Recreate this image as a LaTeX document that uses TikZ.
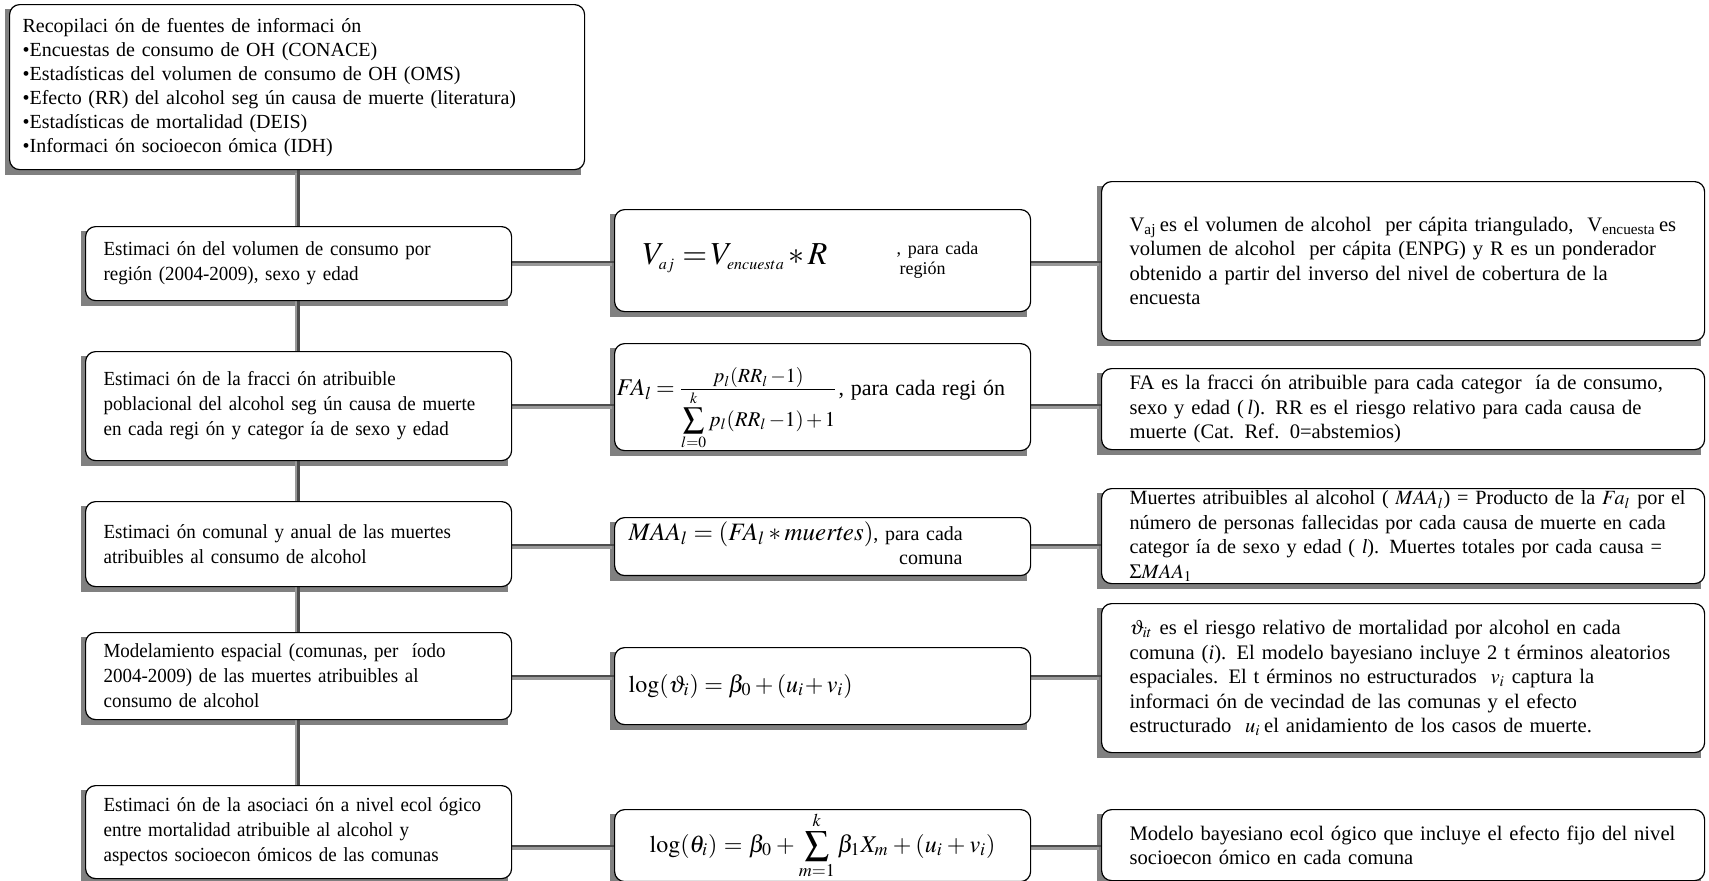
\documentclass[tikz,border=0pt]{standalone}
\usepackage{mathptmx}
\usepackage{fontspec}
\setmainfont{Liberation Serif}
\newfontfamily\stagefont{Liberation Serif}[FakeStretch=0.95]
\usetikzlibrary{backgrounds}
\DeclareMathSizes{16}{16}{8}{6}

\definecolor{boxshade}{gray}{0.5}
\definecolor{linkdark}{gray}{0.3}
\definecolor{linkshade}{gray}{0.6}

\tikzset{
  stagebox/.style={draw=black, line width=0.6pt, rounded corners=5pt, fill=white,
    align=left, anchor=north west, inner ysep=2pt},
  leftbox/.style={stagebox, minimum width=213pt, text width=195pt, inner xsep=9pt,
    font=\stagefont\fontsize{10}{12.5}\selectfont},
  formbox/.style={stagebox, minimum width=208pt, text width=194pt, inner xsep=7pt,
    font=\fontsize{10}{12}\selectfont},
  notebox/.style={stagebox, minimum width=301.5pt, text width=287.5pt, inner xsep=7pt,
    font=\fontsize{10.3}{12.25}\selectfont, execute at begin node={\leftskip=7pt}},
  widenote/.style={notebox, text width=295pt, inner xsep=3.25pt,
    font=\fontsize{10.1}{12.2}\selectfont, execute at begin node={\leftskip=10.75pt}},
  link/.style={draw=linkdark, line width=1.3pt},
  linkshadow/.style={draw=linkshade, line width=2pt, transform canvas={shift={(-1pt,-1.2pt)}}},
}

\begin{document}
\begin{tikzpicture}[x=0.5pt,y=-0.5pt]
\useasboundingbox (0,0) rectangle (1709,880);
% fuentes de informacion
\node[stagebox, minimum width=287.5pt, text width=274.5pt, inner xsep=6.5pt, minimum height=82.5pt,
  font=\fontsize{10}{12}\selectfont] (top) at (9,4)
  {Recopilaci ón de fuentes de informaci ón\\
   •Encuestas de consumo de OH (CONACE)\\
   •Estadísticas del volumen de consumo de OH (OMS)\\
   •Efecto (RR) del alcohol seg ún causa de muerte (literatura)\\
   •Estadísticas de mortalidad (DEIS)\\
   •Informaci ón socioecon ómica (IDH)};

% etapas
\node[leftbox, minimum height=37pt] (l1) at (85,226)
  {Estimaci ón del volumen de consumo por\\región (2004-2009), sexo y edad};
\node[leftbox, minimum height=54.5pt] (l2) at (85,351)
  {Estimaci ón de la fracci ón atribuible\\poblacional del alcohol seg ún causa de muerte\\en cada regi ón y categor ía de sexo y edad};
\node[leftbox, minimum height=42.5pt] (l3) at (85,501)
  {Estimaci ón comunal y anual de las muertes\\atribuibles al consumo de alcohol};
\node[leftbox, minimum height=43.5pt] (l4) at (85,632)
  {Modelamiento espacial (comunas, per \ íodo\\2004-2009) de las muertes atribuibles al\\consumo de alcohol};
\node[leftbox, minimum height=46.5pt] (l5) at (85,785)
  {Estimaci ón de la asociaci ón a nivel ecol ógico\\entre mortalidad atribuible al alcohol y\\aspectos socioecon ómicos de las comunas};

% formulas
\node[formbox, minimum height=51pt] (m1) at (614,209)
  {\hspace*{7pt}\makebox[127pt][l]{\fontsize{16}{18}\selectfont$V_{aj}\mkern4mu{=}\mkern2mu V_{encuesta}\,{*}\,R$}%
   \raisebox{-5pt}{\parbox[b]{50pt}{\fontsize{9}{10}\selectfont, para cada\\\hspace*{1.5pt}región}}};
\node[formbox, minimum height=53.5pt] (m2) at (614,343)
  {\raisebox{-6pt}[\height][\depth]{\hspace*{-6pt}\makebox[111pt][l]{\fontsize{12}{14}\selectfont$FA_l\mkern3mu{=}\mkern3mu\frac{\mbox{\fontsize{10}{12}\selectfont$p_l(RR_l\,{-}1)$}}{\mbox{\fontsize{10.5}{12}\selectfont$\displaystyle\sum_{l=0}^{k} p_l(RR_l\,{-}1)\mkern2mu{+}\mkern2mu1$}}$}%
   {\fontsize{11}{13}\selectfont, para cada regi ón}}};
\node[formbox, minimum height=27.5pt] (m3) at (614,517)
  {{\fontsize{12.5}{14}\selectfont$MAA_l = (FA_l * \mathit{muertes})$},\ %
   \begin{tabular}[t]{@{}l@{}}para cada\\\hspace*{7pt}comuna\end{tabular}};
\node[formbox, minimum height=38.5pt] (m4) at (614,647)
  {{\fontsize{12}{14}\selectfont$\log(\vartheta_i) = \beta_0 + (u_i\!+ v_i)$}};
\node[formbox, align=center, inner ysep=1pt, minimum height=31.5pt] (m5) at (614,809)
  {{\fontsize{12}{14}\selectfont$\displaystyle\log(\theta_i) = \beta_0 + \sum_{m=1}^{k}\beta_1 X_m + (u_i + v_i)$}};

% notas
\node[notebox, minimum height=79.5pt] (r1) at (1101,181)
  {V\textsubscript{aj}\,es el volumen de alcohol \ per cápita triangulado, \ V\textsubscript{encuesta}\,es\\
   volumen de alcohol \ per cápita (ENPG) y R es un ponderador\\
   obtenido a partir del inverso del nivel de cobertura de la\\
   encuesta};
\node[notebox, minimum height=40.5pt] (r2) at (1101,368)
  {FA es la fracci ón atribuible para cada categor \ ía de consumo,\\
   sexo y edad (\,\textit{l}). RR es el riesgo relativo para cada causa de\\
   muerte (Cat. Ref. 0=abstemios)};
\node[widenote, inner ysep=0pt, minimum height=47.5pt] (r3) at (1101,488)
  {Muertes atribuibles al alcohol ( $MAA_l$) = Producto de la $Fa_l$ por el\\
   número de personas fallecidas por cada causa de muerte en cada\\
   categor ía de sexo y edad ( \textit{l}). Muertes totales por cada causa =\\
   $\Sigma MAA_1$};
\node[notebox, minimum height=74.5pt] (r4) at (1101,603)
  {$\vartheta_{it}$ es el riesgo relativo de mortalidad por alcohol en cada\\
   comuna (\textit{i}). El modelo bayesiano incluye 2 t érminos aleatorios\\
   espaciales. El t érminos no estructurados \ $v_i$ captura la\\
   informaci ón de vecindad de las comunas y el efecto\\
   estructurado \ $u_i$\,el anidamiento de los casos de muerte.};
\node[notebox, minimum height=35.5pt] (r5) at (1101,809)
  {Modelo bayesiano ecol ógico que incluye el efecto fijo del nivel\\
   socioecon ómico en cada comuna};

% filas de conectores
\coordinate (row1) at (0,262);
\coordinate (row2) at (0,405);
\coordinate (row3) at (0,545);
\coordinate (row4) at (0,676);
\coordinate (row5) at (0,846);

\begin{scope}[on background layer]
  \foreach \b in {top,l1,l2,l3,l4,l5,m1,m2,m3,m4,m5,r1,r2,r3,r4,r5}
    \fill[boxshade] ([shift={(-2pt,-2.5pt)}]\b.south west) rectangle ([shift={(-2pt,-2.5pt)}]\b.north east);
  \draw[linkshadow] (l1.north |- top.south) -- (l5.north);
  \draw[link] (l1.north |- top.south) -- (l5.north);
  \foreach \i in {1,...,5} {
    \draw[linkshadow] (l\i.east |- row\i) -- (m\i.west |- row\i) (m\i.east |- row\i) -- (r\i.west |- row\i);
    \draw[link] (l\i.east |- row\i) -- (m\i.west |- row\i) (m\i.east |- row\i) -- (r\i.west |- row\i);
  }
\end{scope}
\end{tikzpicture}
\end{document}
